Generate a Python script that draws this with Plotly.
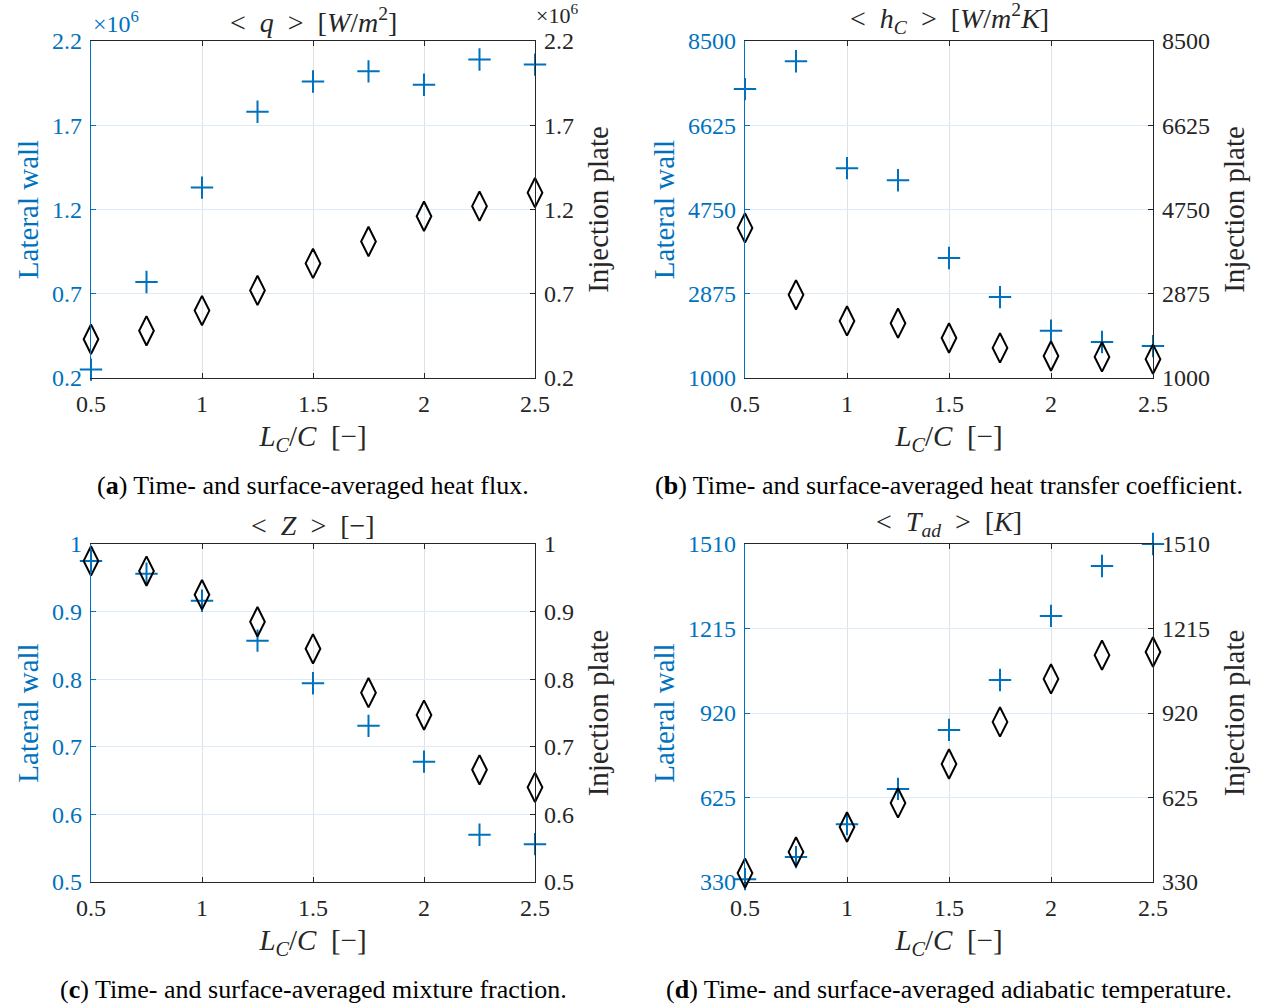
import plotly.graph_objects as go

# ---------------- data ----------------
LC_C = [0.5, 0.75, 1.0, 1.25, 1.5, 1.75, 2.0, 2.25, 2.5]

q_lateral = [0.25e6, 0.77e6, 1.33e6, 1.78e6, 1.96e6, 2.02e6, 1.94e6, 2.09e6, 2.06e6]
q_injection = [0.43e6, 0.48e6, 0.60e6, 0.72e6, 0.88e6, 1.01e6, 1.16e6, 1.22e6, 1.30e6]

h_lateral = [7430, 8050, 5670, 5400, 3670, 2800, 2050, 1800, 1710]
h_injection = [4340, 2850, 2270, 2220, 1890, 1670, 1490, 1470, 1420]

Z_lateral = [0.975, 0.956, 0.916, 0.857, 0.794, 0.731, 0.678, 0.570, 0.556]
Z_injection = [0.975, 0.960, 0.925, 0.885, 0.845, 0.780, 0.747, 0.666, 0.640]

T_lateral = [340, 417, 532, 655, 861, 1035, 1259, 1433, 1510]
T_injection = [361, 435, 522, 606, 742, 889, 1039, 1122, 1133]

x_ticks = [0.5, 1, 1.5, 2, 2.5]
x_ticklabels = ["0.5", "1", "1.5", "2", "2.5"]
q_ticks = [0.2, 0.7, 1.2, 1.7, 2.2]
h_ticks = [1000, 2875, 4750, 6625, 8500]
Z_ticks = [0.5, 0.6, 0.7, 0.8, 0.9, 1.0]
Z_ticklabels = ["0.5", "0.6", "0.7", "0.8", "0.9", "1"]
T_ticks = [330, 625, 920, 1215, 1510]
q_scale = 1e6

titles = [
    "&lt;  <i>q</i>  &gt;  [<i>W</i>/<i>m</i><sup>2</sup>]",
    "&lt;  <i>h<sub>C</sub></i>  &gt;  [<i>W</i>/<i>m</i><sup>2</sup><i>K</i>]",
    "&lt;  <i>Z</i>  &gt;  [−]",
    "&lt;  <i>T<sub>ad</sub></i>  &gt;  [<i>K</i>]",
]
captions = [
    "(<b>a</b>) Time- and surface-averaged heat flux.",
    "(<b>b</b>) Time- and surface-averaged heat transfer coefficient.",
    "(<b>c</b>) Time- and surface-averaged mixture fraction.",
    "(<b>d</b>) Time- and surface-averaged adiabatic temperature.",
]
xlabel = "<i>L<sub>C</sub></i>/<i>C</i>  [−]"

# ---------------- layout geometry ----------------
W, H = 1261, 1005
BLUE = "#0072BD"
DARK = "#262626"
FONT = "Liberation Serif"
TICK = 24
LAB = 29

def px_x(p):
    return p / W

def px_y(p):
    return 1 - p / H

panels = [
    dict(x0=91, x1=535, y0=41, y1=378, lat=[v / q_scale for v in q_lateral],
         inj=[v / q_scale for v in q_injection], ticks=q_ticks,
         ticklabels=[f"{t:g}" for t in q_ticks], rng=[0.2, 2.2]),
    dict(x0=745, x1=1153, y0=41, y1=378, lat=h_lateral, inj=h_injection,
         ticks=h_ticks, ticklabels=[str(t) for t in h_ticks], rng=[1000, 8500]),
    dict(x0=91, x1=535, y0=544, y1=882, lat=Z_lateral, inj=Z_injection,
         ticks=Z_ticks, ticklabels=Z_ticklabels, rng=[0.5, 1.0]),
    dict(x0=745, x1=1153, y0=544, y1=882, lat=T_lateral, inj=T_injection,
         ticks=T_ticks, ticklabels=[str(t) for t in T_ticks], rng=[330, 1510]),
]

fig = go.Figure()
layout = dict(
    width=W, height=H, margin=dict(l=0, r=0, t=0, b=0, autoexpand=False),
    paper_bgcolor="white", plot_bgcolor="white", showlegend=False,
    font=dict(family=FONT, size=TICK, color=DARK),
)
annotations = []

for i, p in enumerate(panels):
    k = i + 1
    xa = "x" if k == 1 else f"x{k}"
    yl_n = 2 * k - 1
    yr_n = 2 * k
    yl = "y" if yl_n == 1 else f"y{yl_n}"
    yr = f"y{yr_n}"

    fig.add_trace(go.Scatter(
        x=LC_C, y=p["lat"], xaxis=xa, yaxis=yl, mode="markers",
        marker=dict(symbol="cross-thin-open", size=16, color=BLUE,
                    line=dict(color=BLUE, width=2)),
        cliponaxis=False))
    fig.add_trace(go.Scatter(
        x=LC_C, y=p["inj"], xaxis=xa, yaxis=yr, mode="markers",
        marker=dict(symbol="diamond-tall-open", size=21, color="black",
                    line=dict(color="black", width=2)),
        cliponaxis=False))

    xkey = "xaxis" if k == 1 else f"xaxis{k}"
    ylkey = "yaxis" if yl_n == 1 else f"yaxis{yl_n}"
    yrkey = f"yaxis{yr_n}"
    layout[xkey] = dict(
        domain=[px_x(p["x0"]), px_x(p["x1"])], anchor=yl, range=[0.5, 2.5],
        tickvals=x_ticks, ticktext=x_ticklabels, ticks="inside", ticklen=5,
        tickcolor=DARK, showline=True, linecolor=DARK, linewidth=1.3, mirror="ticks",
        showgrid=True, gridcolor="#dfe3e8", gridwidth=1, zeroline=False,
        automargin=False, ticklabelstandoff=4,
        tickfont=dict(family=FONT, size=TICK, color=DARK),
        title=dict(text=xlabel, font=dict(family=FONT, size=LAB, color=DARK), standoff=9),
    )
    layout[ylkey] = dict(
        domain=[px_y(p["y1"]), px_y(p["y0"])], anchor=xa, range=p["rng"],
        tickvals=p["ticks"], ticktext=p["ticklabels"], ticks="inside", ticklen=5,
        tickcolor=BLUE, showline=True, linecolor=BLUE, linewidth=1.3,
        showgrid=True, gridcolor="#dcebf7", gridwidth=1, zeroline=False,
        automargin=False, ticklabelstandoff=3,
        tickfont=dict(family=FONT, size=TICK, color=BLUE),
        title=dict(text="Lateral wall", font=dict(family=FONT, size=LAB, color=BLUE), standoff=4),
    )
    layout[yrkey] = dict(
        overlaying=yl, side="right", anchor=xa, range=p["rng"],
        tickvals=p["ticks"], ticktext=p["ticklabels"], ticks="inside", ticklen=5,
        tickcolor=DARK, showline=True, linecolor=DARK, linewidth=1.3,
        showgrid=False, zeroline=False, automargin=False, ticklabelstandoff=3,
        tickfont=dict(family=FONT, size=TICK, color=DARK),
        title=dict(text="Injection plate", font=dict(family=FONT, size=LAB, color=DARK), standoff=14),
    )

    cx = (p["x0"] + p["x1"]) / 2
    annotations.append(dict(
        text=titles[i], x=px_x(cx), y=px_y(p["y0"] - 1), xref="paper", yref="paper",
        xanchor="center", yanchor="bottom", showarrow=False,
        font=dict(family=FONT, size=28, color=DARK)))
    cap_cx = 313 if k in (1, 3) else 949
    cap_y = 485 if k in (1, 2) else 989
    annotations.append(dict(
        text=captions[i], x=px_x(cap_cx), y=px_y(cap_y), xref="paper", yref="paper",
        xanchor="center", yanchor="middle", showarrow=False,
        font=dict(family=FONT, size=26, color="black")))

# exponent labels for panel (a)
annotations.append(dict(text="×10<sup>6</sup>", x=px_x(91), y=px_y(39), xref="paper",
                        yref="paper", xanchor="left", yanchor="bottom", showarrow=False,
                        font=dict(family=FONT, size=24, color=BLUE)))
annotations.append(dict(text="×10<sup>6</sup>", x=px_x(534), y=px_y(30), xref="paper",
                        yref="paper", xanchor="left", yanchor="bottom", showarrow=False,
                        font=dict(family=FONT, size=22, color=DARK)))

layout["annotations"] = annotations
fig.update_layout(**layout)
fig.write_html("out.html")
